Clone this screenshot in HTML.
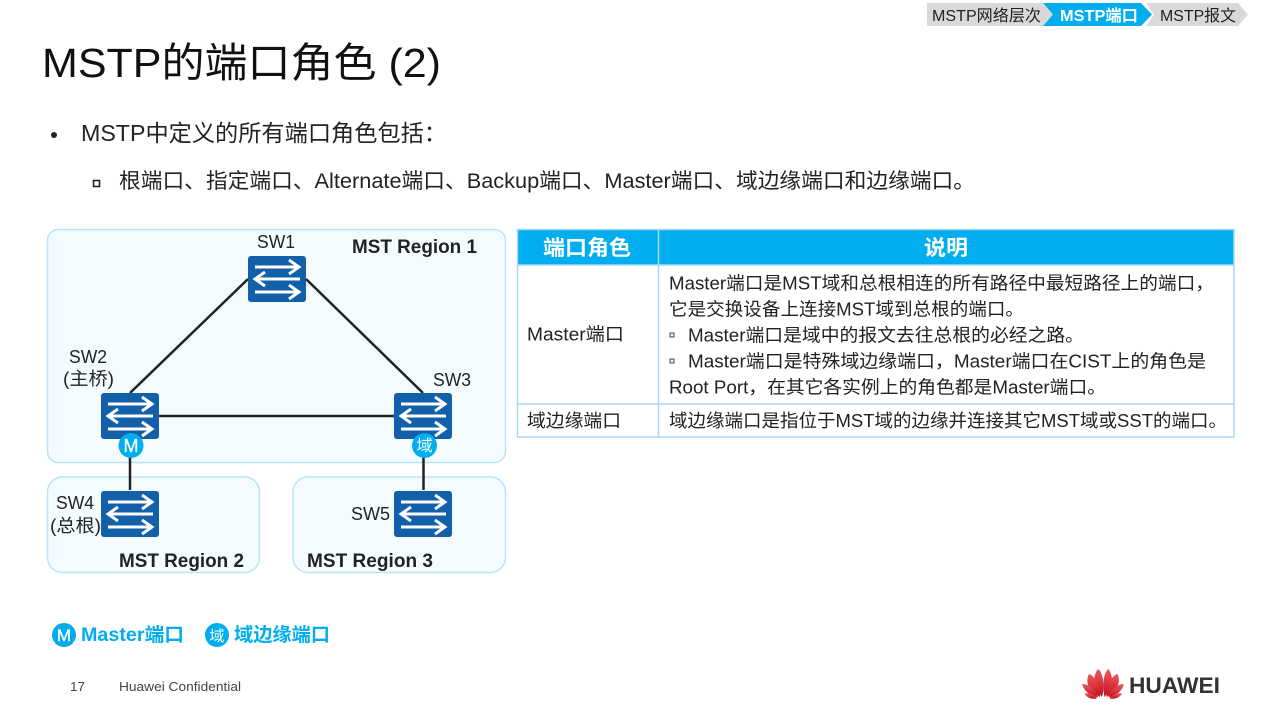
<!DOCTYPE html>
<html><head><meta charset="utf-8"><style>
html,body{margin:0;padding:0;background:#fff;width:1285px;height:720px;overflow:hidden}
svg{display:block;filter:blur(0.35px)}
text{font-family:"Liberation Sans","Noto Sans CJK SC",sans-serif;fill:#222}
</style></head><body>
<svg width="1285" height="720" viewBox="0 0 1285 720" xmlns="http://www.w3.org/2000/svg">
<defs>
<g id="sw">
<rect width="58" height="46" rx="3" fill="#1260aa"/>
<g fill="none" stroke="#fff" stroke-width="2.900">
<path d="M7 11H50M41 4L51 11L41 18"/>
<path d="M52 23H8M17 16L7 23L17 30"/>
<path d="M7 36H50M41 29L51 36L41 43"/>
</g>
</g>
<linearGradient id="pet" x1="0" y1="0" x2="0" y2="1"><stop offset="0" stop-color="#ee5a5f"/><stop offset="1" stop-color="#c40f1c"/></linearGradient>
</defs>

<!-- breadcrumb -->
<polygon points="927,3 1043,3 1053,14.5 1043,26 927,26" fill="#d9d9d9"/>
<polygon points="1146,3 1238,3 1248,14.5 1238,26 1146,26 1154,14.5" fill="#d9d9d9"/>
<polygon points="1043,3 1141,3 1152,14.5 1141,26 1043,26 1053,14.5" fill="#00aeef"/>
<text x="932" y="21" font-size="16" textLength="109" lengthAdjust="spacingAndGlyphs">MSTP网络层次</text>
<text x="1060" y="21" font-size="16" font-weight="bold" style="fill:#fff" textLength="78" lengthAdjust="spacingAndGlyphs">MSTP端口</text>
<text x="1160" y="21" font-size="16" textLength="76" lengthAdjust="spacingAndGlyphs">MSTP报文</text>

<!-- title -->
<text x="42" y="77" font-size="41" style="fill:#111" textLength="399" lengthAdjust="spacingAndGlyphs">MSTP的端口角色 (2)</text>

<!-- bullets -->
<circle cx="54" cy="135" r="3" fill="#222"/>
<text x="81" y="141" font-size="23" textLength="366" lengthAdjust="spacingAndGlyphs">MSTP中定义的所有端口角色包括：</text>
<rect x="93.5" y="180.5" width="6" height="6" fill="none" stroke="#222" stroke-width="1.6"/>
<text x="119" y="188" font-size="21" textLength="856" lengthAdjust="spacingAndGlyphs">根端口、指定端口、Alternate端口、Backup端口、Master端口、域边缘端口和边缘端口。</text>

<!-- regions -->
<rect x="47.5" y="229.5" width="458" height="233" rx="11" fill="#f3fbff" stroke="#b5e5fa" stroke-width="1.5"/>
<rect x="47.5" y="477" width="212" height="95.5" rx="15" fill="#f3fbff" stroke="#b5e5fa" stroke-width="1.5"/>
<rect x="293" y="477" width="212.5" height="95.5" rx="15" fill="#f3fbff" stroke="#b5e5fa" stroke-width="1.5"/>

<!-- links -->
<g stroke="#222" stroke-width="2.500" fill="none">
<line x1="248" y1="279" x2="130" y2="393"/>
<line x1="306" y1="279" x2="423" y2="393"/>
<line x1="159" y1="416" x2="394" y2="416"/>
<line x1="130" y1="455" x2="130" y2="490"/>
<line x1="423.500" y1="455" x2="423.500" y2="490"/>
</g>

<use href="#sw" x="248" y="256"/>
<use href="#sw" x="101" y="393"/>
<use href="#sw" x="394" y="393"/>
<use href="#sw" x="101" y="491"/>
<use href="#sw" x="394" y="491"/>

<circle cx="131" cy="445.500" r="12.500" fill="#00aeef"/>
<text x="131" y="452" font-size="18" text-anchor="middle" style="fill:#fff;stroke:#fff;stroke-width:.3">M</text>
<circle cx="424.500" cy="445.500" r="12.500" fill="#00aeef"/>
<text x="424.500" y="451" font-size="16" text-anchor="middle" style="fill:#fff">域</text>

<!-- diagram labels -->
<g font-size="18">
<text x="257" y="248" textLength="38" lengthAdjust="spacingAndGlyphs">SW1</text>
<text x="69" y="363" textLength="38" lengthAdjust="spacingAndGlyphs">SW2</text>
<text x="63" y="385" textLength="51" lengthAdjust="spacingAndGlyphs">(主桥)</text>
<text x="433" y="386" textLength="38" lengthAdjust="spacingAndGlyphs">SW3</text>
<text x="56" y="509" textLength="38" lengthAdjust="spacingAndGlyphs">SW4</text>
<text x="50" y="532" textLength="51" lengthAdjust="spacingAndGlyphs">(总根)</text>
<text x="351" y="520" textLength="39" lengthAdjust="spacingAndGlyphs">SW5</text>
</g>
<g font-size="19" font-weight="bold">
<text x="352" y="253" textLength="125" lengthAdjust="spacingAndGlyphs">MST Region 1</text>
<text x="119" y="567" textLength="125" lengthAdjust="spacingAndGlyphs">MST Region 2</text>
<text x="307" y="567" textLength="126" lengthAdjust="spacingAndGlyphs">MST Region 3</text>
</g>

<!-- table -->
<rect x="517" y="229" width="717" height="36" fill="#00aeef"/>
<g stroke="#a9d8f7" stroke-width="1.5" fill="none">
<rect x="517.500" y="229.500" width="716.500" height="207.500"/>
<line x1="517" y1="265" x2="1234" y2="265"/>
<line x1="517" y1="404" x2="1234" y2="404"/>
<line x1="658.500" y1="229" x2="658.500" y2="437"/>
</g>
<text x="543" y="255" font-size="21" font-weight="bold" style="fill:#fff" textLength="88" lengthAdjust="spacingAndGlyphs">端口角色</text>
<text x="924" y="255" font-size="21" font-weight="bold" style="fill:#fff" textLength="44" lengthAdjust="spacingAndGlyphs">说明</text>
<g font-size="18">
<text x="527" y="340.500" textLength="97" lengthAdjust="spacingAndGlyphs">Master端口</text>
<text x="527" y="427" textLength="94" lengthAdjust="spacingAndGlyphs">域边缘端口</text>
<text x="669" y="289.500" textLength="545" lengthAdjust="spacingAndGlyphs">Master端口是MST域和总根相连的所有路径中最短路径上的端口，</text>
<text x="669" y="315.500" textLength="355" lengthAdjust="spacingAndGlyphs">它是交换设备上连接MST域到总根的端口。</text>
<text x="688" y="341.500" textLength="396" lengthAdjust="spacingAndGlyphs">Master端口是域中的报文去往总根的必经之路。</text>
<text x="688" y="367.500" textLength="518" lengthAdjust="spacingAndGlyphs">Master端口是特殊域边缘端口，Master端口在CIST上的角色是</text>
<text x="669" y="393.500" textLength="437" lengthAdjust="spacingAndGlyphs">Root Port，在其它各实例上的角色都是Master端口。</text>
<text x="669" y="427" textLength="558" lengthAdjust="spacingAndGlyphs">域边缘端口是指位于MST域的边缘并连接其它MST域或SST的端口。</text>
</g>
<rect x="670" y="333" width="4" height="4" fill="none" stroke="#444"/>
<rect x="670" y="359" width="4" height="4" fill="none" stroke="#444"/>

<!-- legend -->
<circle cx="64" cy="635" r="12" fill="#00aeef"/>
<text x="64" y="641" font-size="17" text-anchor="middle" style="fill:#fff;stroke:#fff;stroke-width:.3">M</text>
<text x="81" y="641" font-size="19" font-weight="bold" style="fill:#00aeef" textLength="103" lengthAdjust="spacingAndGlyphs">Master端口</text>
<circle cx="217" cy="635" r="12" fill="#00aeef"/>
<text x="217" y="641" font-size="15" text-anchor="middle" style="fill:#fff">域</text>
<text x="234" y="641" font-size="19" font-weight="bold" style="fill:#00aeef" textLength="96" lengthAdjust="spacingAndGlyphs">域边缘端口</text>

<!-- footer -->
<text x="70" y="691" font-size="13" style="fill:#444" textLength="15" lengthAdjust="spacingAndGlyphs">17</text>
<text x="119" y="691" font-size="13" style="fill:#444" textLength="122" lengthAdjust="spacingAndGlyphs">Huawei Confidential</text>

<!-- logo -->
<g fill="url(#pet)">
<path d="M1102,697 C1095,689 1091,678 1098,669 C1103,672 1105,686 1102,697Z"/>
<path d="M1104.500,697 C1102,686 1103.500,672 1108.500,669 C1115,678 1111,689 1104.500,697Z"/>
<path d="M1100,697 C1091,692 1084,684 1089,674 C1094,675 1100,686 1100,697Z"/>
<path d="M1106.500,697 C1106.500,686 1112,675 1117.500,674 C1122,684 1115,692 1106.500,697Z"/>
<path d="M1098,697.500 C1090,696 1084,691 1082,684 C1089,684 1096,690 1098,697.500Z"/>
<path d="M1108.500,697.500 C1110.500,690 1117,684 1124,684 C1122,691 1116,696 1108.500,697.500Z"/>
<path d="M1097,698.500 C1092,699.500 1087,698 1084.500,693.500 C1089,692.500 1094,694.500 1097,698.500Z"/>
<path d="M1109.500,698.500 C1114.500,699.500 1119.500,698 1122,693.500 C1117.500,692.500 1112.500,694.500 1109.500,698.500Z"/>
</g>
<text x="1129" y="693" font-size="22" font-weight="bold" style="fill:#333" textLength="91" lengthAdjust="spacingAndGlyphs">HUAWEI</text>
</svg>
</body></html>
